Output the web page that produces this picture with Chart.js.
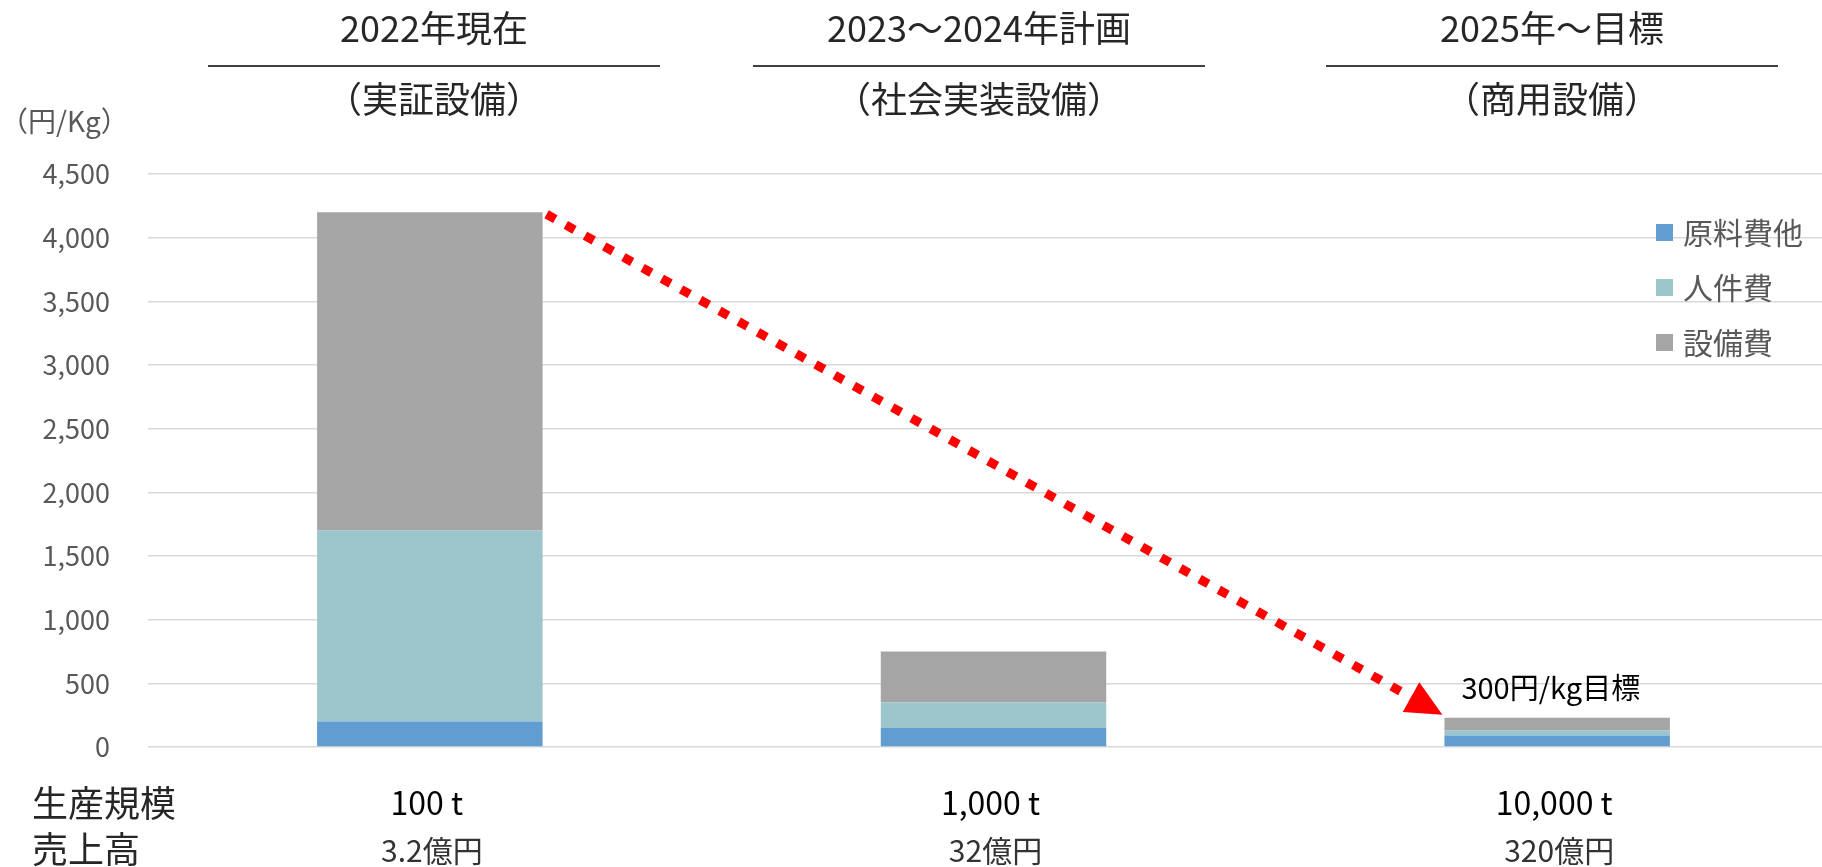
<!DOCTYPE html>
<html lang="ja">
<head>
<meta charset="utf-8">
<title>生産コスト</title>
<script src="https://cdn.jsdelivr.net/npm/chart.js@4.4.1/dist/chart.umd.min.js"></script>
<style>
  html, body { margin: 0; padding: 0; background: #fff; overflow: hidden; }
  #wrap { position: relative; width: 1860px; height: 867px; }
</style>
</head>
<body>
<div id="wrap"><canvas id="costChart"></canvas></div>
<script>
// ===== Data =====
const periods = ["2022年現在", "2023～2024年計画", "2025年～目標"];
const facilities = ["（実証設備）", "（社会実装設備）", "（商用設備）"];
const seriesNames = ["原料費他", "人件費", "設備費"];
const materialCost = [200, 150, 90];
const laborCost = [1500, 200, 40];
const equipmentCost = [2500, 400, 100];
const yTicks = [0, 500, 1000, 1500, 2000, 2500, 3000, 3500, 4000, 4500];
const productionScale = ["100 t", "1,000 t", "10,000 t"];
const sales = ["3.2億円", "32億円", "320億円"];
const unitLabel = "（円/Kg）";
const targetNote = "300円/kg目標";

const FONT = "'Noto Sans CJK JP', 'Noto Sans', sans-serif";
const colors = ["#619dd1", "#9dc5cc", "#a5a5a5"];

// ===== Headers, row labels, legend, arrow =====
const decorations = {
  id: "decorations",
  afterDatasetsDraw(chart) {
    const ctx = chart.ctx;
    const x = chart.scales.x;
    ctx.save();

    // period headers with rule between lines
    const headerCenters = [434, 979, 1552];
    periods.forEach((p, i) => {
      const cx = headerCenters[i];
      ctx.fillStyle = "#262626";
      ctx.font = `36px ${FONT}`;
      ctx.textAlign = "center";
      ctx.textBaseline = "middle";
      ctx.fillText(p, cx, 28);
      ctx.fillText(facilities[i], cx, 99);
      ctx.strokeStyle = "#404040";
      ctx.lineWidth = 2;
      ctx.beginPath();
      ctx.moveTo(cx - 226, 66);
      ctx.lineTo(cx + 226, 66);
      ctx.stroke();
    });

    // unit label
    ctx.fillStyle = "#595959";
    ctx.font = `28px ${FONT}`;
    ctx.textAlign = "left";
    ctx.fillText(unitLabel, 0, 121);

    // row labels under the plot
    ctx.fillStyle = "#262626";
    ctx.font = `36px ${FONT}`;
    ctx.fillText("生産規模", 32, 803);
    ctx.fillText("売上高", 32, 849);

    ctx.textAlign = "center";
    productionScale.forEach((t, i) => {
      ctx.fillStyle = "#000";
      ctx.font = `32px ${FONT}`;
      ctx.fillText(t, x.getPixelForValue(i) - 3, 803);
      ctx.fillStyle = "#333";
      ctx.font = `30px ${FONT}`;
      ctx.fillText(sales[i], x.getPixelForValue(i) + 2, 851);
    });

    // legend
    chart.data.datasets.forEach((ds, i) => {
      const y = 233 + i * 55;
      ctx.fillStyle = ds.backgroundColor;
      ctx.fillRect(1656, y - 9, 17, 17);
      ctx.fillStyle = "#595959";
      ctx.font = `30px ${FONT}`;
      ctx.textAlign = "left";
      ctx.fillText(ds.label, 1683, y);
    });

    // dotted arrow from first bar top to last bar top
    const top = chart.getDatasetMeta(chart.data.datasets.length - 1).data;
    const first = top[0];
    const last = top[top.length - 1];
    const sx = first.x + first.width / 2 + 4, sy = first.y + 2;
    const tx = last.x - last.width / 2 - 2, ty = last.y - 3;
    const ang = Math.atan2(ty - sy, tx - sx);
    const headLen = 36, headHalf = 17;
    const bx = tx - headLen * Math.cos(ang), by = ty - headLen * Math.sin(ang);

    ctx.strokeStyle = "#ff0000";
    ctx.lineWidth = 9;
    ctx.setLineDash([10, 12]);
    ctx.beginPath();
    ctx.moveTo(sx, sy);
    ctx.lineTo(bx, by);
    ctx.stroke();
    ctx.setLineDash([]);

    ctx.fillStyle = "#ff0000";
    ctx.beginPath();
    ctx.moveTo(tx, ty);
    ctx.lineTo(bx + headHalf * Math.sin(ang), by - headHalf * Math.cos(ang));
    ctx.lineTo(bx - headHalf * Math.sin(ang), by + headHalf * Math.cos(ang));
    ctx.closePath();
    ctx.fill();

    // target note above the last bar
    ctx.fillStyle = "#000";
    ctx.font = `29px ${FONT}`;
    ctx.textAlign = "left";
    ctx.fillText(targetNote, last.x - last.width / 2 + 17, last.y - 30);

    ctx.restore();
  },
};

// ===== Chart =====
const ctx = document.getElementById("costChart").getContext("2d");
new Chart(ctx, {
  type: "bar",
  data: {
    labels: periods,
    datasets: [
      { label: seriesNames[0], data: materialCost, backgroundColor: colors[0] },
      { label: seriesNames[1], data: laborCost, backgroundColor: colors[1] },
      { label: seriesNames[2], data: equipmentCost, backgroundColor: colors[2] },
    ],
  },
  options: {
    responsive: true,
    maintainAspectRatio: false,
    animation: false,
    datasets: { bar: { barPercentage: 0.4, categoryPercentage: 1.0 } },
    layout: { padding: { left: 0, top: 174, right: 21, bottom: 120 } },
    plugins: { legend: { display: false }, tooltip: { enabled: false } },
    scales: {
      x: { stacked: true, display: false },
      y: {
        stacked: true,
        min: 0,
        max: 4500,
        afterBuildTicks: (s) => { s.ticks = yTicks.map((v) => ({ value: v })); },
        afterFit: (s) => { s.width = 148; },
        border: { display: false },
        grid: { color: "#d9d9d9", lineWidth: 1.5, drawTicks: false },
        ticks: {
          color: "#595959",
          padding: 38,
          font: { family: FONT, size: 27 },
          callback: (v) => v.toLocaleString("en-US"),
        },
      },
    },
  },
  plugins: [decorations],
});
</script>
</body>
</html>
